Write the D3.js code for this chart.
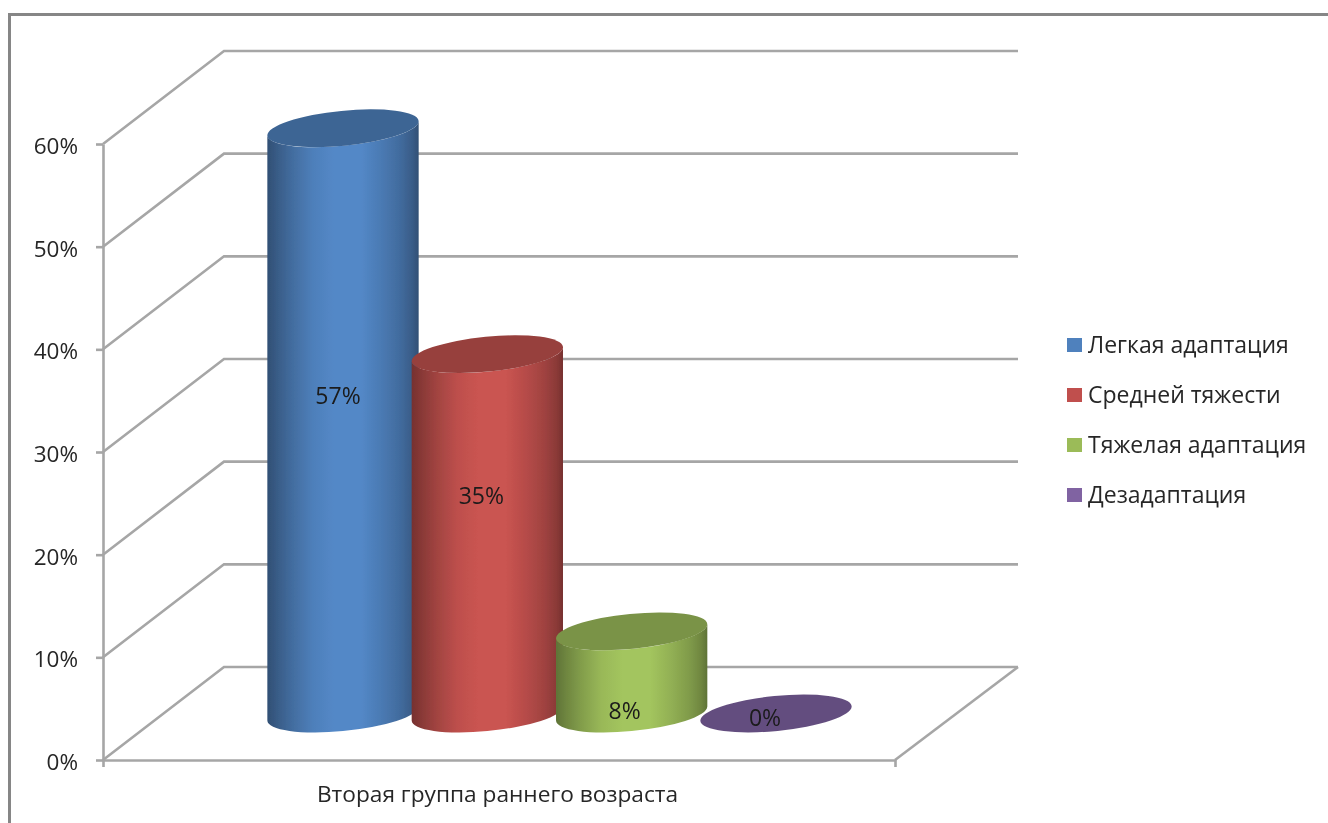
<!DOCTYPE html>
<html><head><meta charset="utf-8">
<script src="https://cdn.jsdelivr.net/npm/d3@7/dist/d3.min.js"></script>
<style>html,body{margin:0;padding:0;background:#fff;overflow:hidden}text{font-family:"Open Sans","Noto Sans",sans-serif;fill:#262626}</style>
</head><body><svg id="c" width="1328" height="823"></svg>
<script>
const category = "Вторая группа раннего возраста";
const seriesNames = ["Легкая адаптация","Средней тяжести","Тяжелая адаптация","Дезадаптация"];
const seriesValues = [57,35,8,0];
const seriesColors = ["#4f81bd","#c0504d","#9bbb59","#8064a2"];
const tickValues = [0,10,20,30,40,50,60];

const svg = d3.select("#c");
const defs = svg.append("defs");
defs.append("filter").attr("id","soft").attr("x","-5%").attr("y","-5%").attr("width","110%").attr("height","110%")
  .append("feGaussianBlur").attr("stdDeviation",0.55);
const root = svg.append("g").attr("filter","url(#soft)");

root.append("path").attr("d","M9.5,823V14.5H1328").attr("fill","none").attr("stroke","#868686").attr("stroke-width",3);

const yFront = d3.scaleLinear().domain([0,60]).range([760,144]);
const yBack  = d3.scaleLinear().domain([0,60]).range([667,51]);
const xFront = d3.scaleLinear().domain([0,1]).range([103,895]);
const xBack  = d3.scaleLinear().domain([0,1]).range([224,1018]);
const xBar = d3.scalePoint().domain(seriesNames).range([343,776]);
const gridCol = "#a6a6a6", gridW = 2.6;

root.append("g").selectAll("path").data(tickValues).join("path")
  .attr("d",v=>d3.line()([[xFront(0),yFront(v)],[xBack(0),yBack(v)],[xBack(1),yBack(v)]]))
  .attr("fill","none").attr("stroke",gridCol).attr("stroke-width",gridW);
root.append("path").attr("d",d3.line()([[xBack(1),yBack(0)],[xFront(1),yFront(0)]]))
  .attr("fill","none").attr("stroke",gridCol).attr("stroke-width",gridW);

const ay = root.append("g").attr("transform",`translate(${xFront(0)},0)`)
  .call(d3.axisLeft(yFront).tickValues(tickValues).tickFormat(d=>d+"%").tickSize(7).tickSizeOuter(0).tickPadding(18));
ay.selectAll("line,path").attr("stroke",gridCol).attr("stroke-width",gridW);
ay.selectAll("text").attr("font-size",22.5).attr("font-family",'"Open Sans"').attr("dy","0.42em").style("fill","#262626");
const ax = root.append("g").attr("transform",`translate(0,${yFront(0)})`)
  .call(d3.axisBottom(xFront).tickValues([0,1]).tickFormat("").tickSize(7).tickSizeOuter(0));
ax.selectAll("line,path").attr("stroke",gridCol).attr("stroke-width",gridW);
root.append("text").attr("x",(xFront(0)+xFront(1))/2-1.5).attr("y",802).attr("text-anchor","middle")
  .attr("font-size",22.7).text(category);

const A=76,B=17.5,ROT=-5.6,rad=ROT*Math.PI/180;
const xExt=Math.hypot(A*Math.cos(rad),B*Math.sin(rad));
const dyExt=(A*A-B*B)*Math.abs(Math.sin(rad)*Math.cos(rad))/xExt;
const floorMid=(yFront(0)+yBack(0))/2;
const hgt=v=>yFront(0)-yFront(v);

seriesNames.forEach((n,i)=>{
  const c=d3.color(seriesColors[i]);
  const g=defs.append("linearGradient").attr("id","g"+i).attr("x1",0).attr("x2",1).attr("y1",0).attr("y2",0);
  [[0,-1.6],[.06,-1.15],[.16,-.6],[.3,-.05],[.44,.14],[.62,.14],[.76,-.2],[.88,-.62],[.96,-1.1],[1,-1.6]].forEach(([o,k])=>{
    const col=k<0?c.darker(-k*.85):c.brighter(k);
    g.append("stop").attr("offset",o).attr("stop-color",col.formatHex());
  });
});

const bars=root.append("g").selectAll("g").data(seriesValues).join("g");
bars.filter(v=>v>0).append("path")
  .attr("fill",v=>`url(#g${seriesValues.indexOf(v)})`)
  .attr("d",v=>{
    const cx=xBar(seriesNames[seriesValues.indexOf(v)]),b=floorMid,t=b-hgt(v);
    const L=cx-xExt,R=cx+xExt;
    return `M${L},${t+dyExt}L${L},${b+dyExt}A${A},${B} ${ROT} 0 0 ${R},${b-dyExt}L${R},${t-dyExt}A${A},${B} ${ROT} 0 1 ${L},${t+dyExt}Z`;
  });
bars.append("ellipse")
  .attr("rx",A).attr("ry",B)
  .attr("transform",v=>`translate(${xBar(seriesNames[seriesValues.indexOf(v)])},${floorMid-hgt(v)}) rotate(${ROT})`)
  .attr("fill",v=>d3.color(seriesColors[seriesValues.indexOf(v)]).darker(.68).formatHex());

const labelLevel=v=>v>=57?31:v>=35?21.2:v>=8?.3:-.4;
const labelShift=[-5,-6,-7,-11];
root.append("g").selectAll("text").data(seriesValues).join("text")
  .attr("x",(v,i)=>xBar(seriesNames[i])+labelShift[i])
  .attr("y",v=>floorMid-hgt(labelLevel(v)))
  .attr("dy","0.36em").attr("text-anchor","middle").attr("font-size",23)
  .style("fill","#1a1a1a").text(v=>v+"%");

const ly=d3.scalePoint().domain(seriesNames).range([345,495]);
const leg=root.append("g").selectAll("g").data(seriesNames).join("g");
leg.append("rect").attr("x",1067).attr("y",n=>ly(n)-7).attr("width",15).attr("height",14)
  .attr("fill",(n,i)=>seriesColors[i]);
leg.append("text").attr("x",1088).attr("y",n=>ly(n)).attr("dy","0.36em").attr("font-size",23).text(n=>n);
</script></body></html>
